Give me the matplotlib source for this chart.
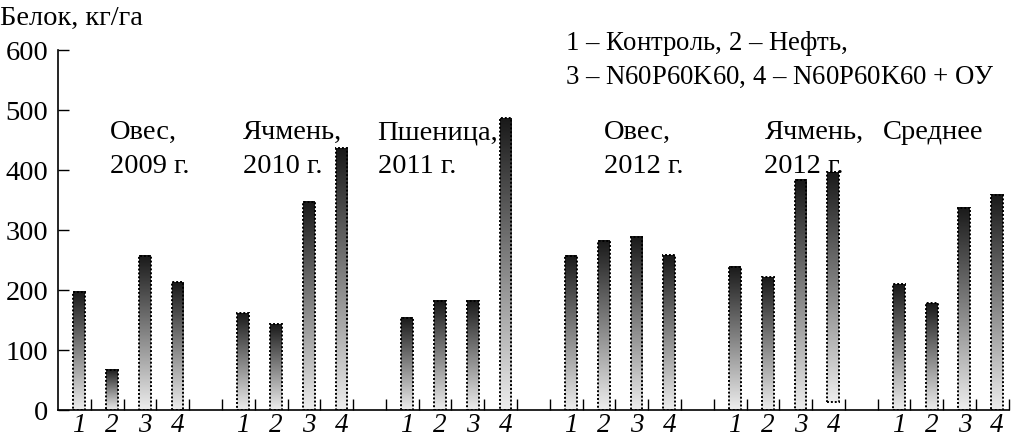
import numpy as np
import matplotlib.pyplot as plt
from matplotlib.ticker import FixedLocator

plt.rcParams["font.family"] = ["Liberation Serif", "DejaVu Serif"]
plt.rcParams["mathtext.fontset"] = "custom"
plt.rcParams["mathtext.rm"] = "Liberation Serif"
plt.rcParams["mathtext.it"] = "Liberation Serif:italic"

# protein yield, kg/ha: four treatments per crop/year
groups = [("Овес,", "2009 г."), ("Ячмень,", "2010 г."), ("Пшеница,", "2011 г."),
          ("Овес,", "2012 г."), ("Ячмень,", "2012 г."), ("Среднее", "")]
treatments = ["1", "2", "3", "4"]
oats_2009 = [197, 67, 257, 213]
barley_2010 = [161, 143, 347, 436]
wheat_2011 = [154, 182, 182, 486]
oats_2012 = [257, 282, 289, 258]
barley_2012 = [239, 221, 384, 397]
average = [210, 178, 337, 359]
barley_2012_base = [0, 0, 0, 14]

series = [oats_2009, barley_2010, wheat_2011, oats_2012, barley_2012, average]
bases = [[0] * 4] * 4 + [barley_2012_base, [0] * 4]

# left edge of each group caption, in bar-slot units
label_x = [0.94, 4.99, 9.1, 16.0, 20.9, 24.5]

fig = plt.figure(figsize=(10.11, 4.38), dpi=100)
ax = fig.add_axes([0.0574, 0.0639, 0.9406, 0.8219])

fs = 20.5
width = 0.36
gradient = np.linspace(0.93, 0.10, 256).reshape(-1, 1)

xs, labels = [], []
for g, (vals, base) in enumerate(zip(series, bases)):
    pos = np.arange(4) + g * 5
    bars = ax.bar(pos, np.array(vals) - np.array(base), width=width, bottom=base,
                  facecolor="none", edgecolor="black", linestyle=(0, (1, 1)),
                  linewidth=1.4, zorder=3)
    for b in bars:
        x0, y0 = b.get_x(), b.get_y()
        ax.imshow(gradient, extent=[x0, x0 + b.get_width(), y0, y0 + b.get_height()],
                  aspect="auto", cmap="gray", vmin=0, vmax=1, origin="lower",
                  interpolation="bilinear", zorder=2)
    xs.extend(pos)
    labels.extend(treatments)
    line1, line2 = groups[g]
    ax.text(label_x[g], 462, line1, fontsize=fs, va="center", ha="left")
    if line2:
        ax.text(label_x[g], 406, line2, fontsize=fs, va="center", ha="left")

ax.set_xlim(-0.646, 28.36)
ax.set_ylim(0, 600)
ax.set_yticks([0, 100, 200, 300, 400, 500, 600])
ax.tick_params(axis="y", direction="in", length=8, width=1, labelsize=fs, pad=7)

ax.set_xticks(xs)
ax.set_xticklabels(labels, fontsize=19.5, fontstyle="italic")
ax.tick_params(axis="x", which="major", length=0, pad=2.5)
ax.xaxis.set_minor_locator(FixedLocator(np.arange(0, 29) + 0.354))
ax.tick_params(axis="x", which="minor", direction="in", length=8, width=1)

for side in ["top", "right"]:
    ax.spines[side].set_visible(False)
for side in ["left", "bottom"]:
    ax.spines[side].set_linewidth(1.2)

fig.text(0.0, 1 - 18 / 438, "Белок, кг/га", fontsize=fs, va="center", ha="left")
legend_fs = 19.3
fig.text(565 / 1011, 1 - 44 / 438, r"$\mathit{1}$ – Контроль, $\mathit{2}$ – Нефть,",
         fontsize=legend_fs, va="center", ha="left")
fig.text(565 / 1011, 1 - 77 / 438,
         r"$\mathit{3}$ – N60P60K60, $\mathit{4}$ – N60P60K60 + ОУ",
         fontsize=legend_fs, va="center", ha="left")

fig.savefig("out.png", dpi=100)
